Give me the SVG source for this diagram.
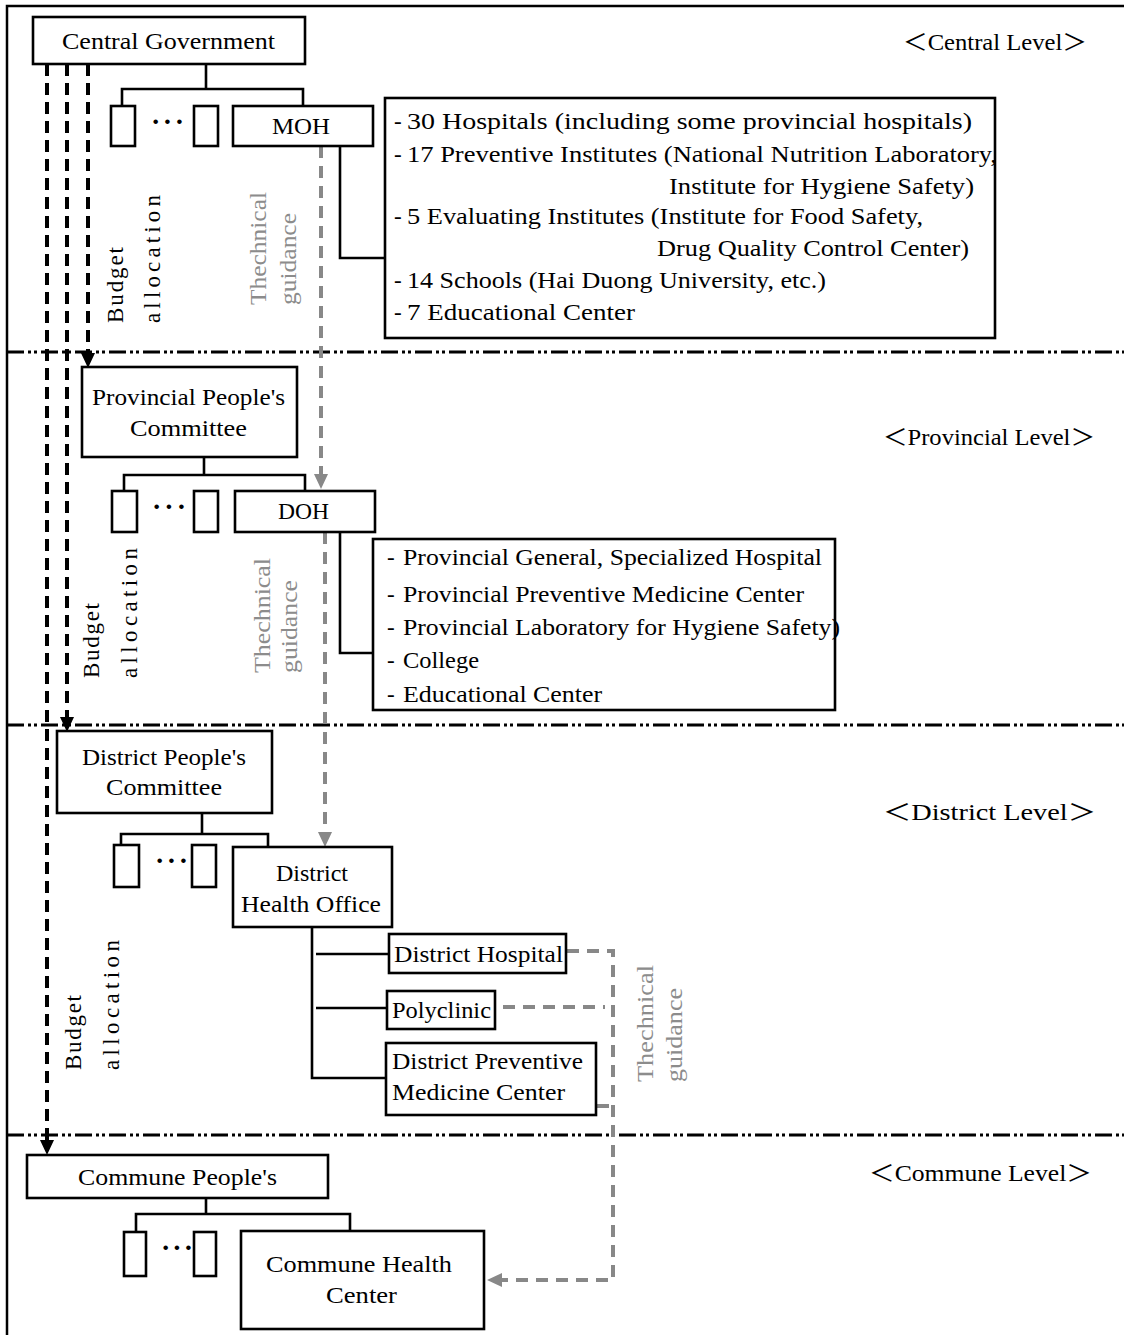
<svg xmlns="http://www.w3.org/2000/svg" width="1124" height="1335" viewBox="0 0 1124 1335">
<style>
.box{fill:#fff;stroke:#000;stroke-width:2.6}
.ln{fill:none;stroke:#000;stroke-width:2.6}
.bd{fill:none;stroke:#000;stroke-width:4;stroke-dasharray:12 7}
.gd{fill:none;stroke:#888;stroke-width:4;stroke-dasharray:12 8}
.sep{fill:none;stroke:#000;stroke-width:3;stroke-dasharray:17 4 3 3 3 4}
.t{font-family:"Liberation Serif",serif;font-size:23px;fill:#000}
.lv{font-family:"Liberation Serif","Noto Sans CJK JP",serif;font-size:23px;fill:#000}
.m{font-family:"Liberation Serif",serif;font-size:23px;fill:#000}
.g{font-family:"Liberation Serif",serif;font-size:24px;fill:#8c8c8c}
.dots{font-family:"Liberation Serif",serif;font-size:28px;font-weight:bold;fill:#000}
</style>
<defs>
<marker id="ab" markerUnits="userSpaceOnUse" markerWidth="15" markerHeight="16" viewBox="0 0 15 16" refX="0" refY="8" orient="auto"><path d="M0,1 L15,8 L0,15 z" fill="#000"/></marker>
<marker id="ag" markerUnits="userSpaceOnUse" markerWidth="15" markerHeight="16" viewBox="0 0 15 16" refX="0" refY="8" orient="auto"><path d="M0,1 L15,8 L0,15 z" fill="#888"/></marker>
</defs>
<rect width="1124" height="1335" fill="#fff"/>
<g id="frame">
<path d="M7,1335 V6 H1124" fill="none" stroke="#000" stroke-width="2.5"/>
<path class="sep" d="M7,352 H1124"/>
<path class="sep" d="M7,725 H1124"/>
<path class="sep" d="M7,1135 H1124"/>
</g>
<g id="connectors">
<path class="ln" d="M206,64 V89 M122,106 V89 H303 V106"/>
<path class="ln" d="M340,146 V258 H385"/>
<path class="ln" d="M204,457 V475 M124,491 V475 H305 V491"/>
<path class="ln" d="M340,532 V653 H372"/>
<path class="ln" d="M202,813 V834 M121,845 V834 H268 V847"/>
<path class="ln" d="M312,927 V1078 H386 M316,954 H389 M316,1008 H387"/>
<path class="ln" d="M206,1198 V1214 M136,1232 V1214 H350 V1231"/>
<path class="bd" d="M88,64 V353" marker-end="url(#ab)"/>
<path class="bd" d="M67,64 V717" marker-end="url(#ab)"/>
<path class="bd" d="M47,64 V1140" marker-end="url(#ab)"/>
<path class="gd" d="M321,146 V474" marker-end="url(#ag)"/>
<path class="gd" d="M325,532 V832" marker-end="url(#ag)"/>
<path class="gd" d="M567,951 H613 V1280 H502" marker-end="url(#ag)"/>
<path class="gd" d="M503,1007 H605"/>
<path class="gd" d="M597,1106 H613"/>
<text class="m" transform="translate(123,323) rotate(-90)" textLength="76" lengthAdjust="spacing">Budget</text>
<text class="m" transform="translate(160,323) rotate(-90)" textLength="128" lengthAdjust="spacing">allocation</text>
<text class="g" transform="translate(266,305) rotate(-90)" textLength="113" lengthAdjust="spacingAndGlyphs">Thechnical</text>
<text class="g" transform="translate(296,305) rotate(-90)" textLength="92" lengthAdjust="spacingAndGlyphs">guidance</text>
<text class="m" transform="translate(99,678) rotate(-90)" textLength="75" lengthAdjust="spacing">Budget</text>
<text class="m" transform="translate(137,678) rotate(-90)" textLength="130" lengthAdjust="spacing">allocation</text>
<text class="g" transform="translate(270,673) rotate(-90)" textLength="115" lengthAdjust="spacingAndGlyphs">Thechnical</text>
<text class="g" transform="translate(297,673) rotate(-90)" textLength="93" lengthAdjust="spacingAndGlyphs">guidance</text>
<text class="m" transform="translate(81,1070) rotate(-90)" textLength="75" lengthAdjust="spacing">Budget</text>
<text class="m" transform="translate(119,1070) rotate(-90)" textLength="130" lengthAdjust="spacing">allocation</text>
<text class="g" transform="translate(653,1082) rotate(-90)" textLength="117" lengthAdjust="spacingAndGlyphs">Thechnical</text>
<text class="g" transform="translate(682,1082) rotate(-90)" textLength="94" lengthAdjust="spacingAndGlyphs">guidance</text>
</g>
<g id="levels">
<text class="lv" x="903" y="50" textLength="184" lengthAdjust="spacingAndGlyphs">＜Central Level＞</text>
<text class="lv" x="883" y="445" textLength="212" lengthAdjust="spacingAndGlyphs">＜Provincial Level＞</text>
<text class="lv" x="883" y="820" textLength="213" lengthAdjust="spacingAndGlyphs">＜District Level＞</text>
<text class="lv" x="869" y="1181" textLength="223" lengthAdjust="spacingAndGlyphs">＜Commune Level＞</text>
</g>
<g id="central-government">
<rect class="box" x="33" y="17" width="272" height="47"/>
<text class="t" x="62" y="49" textLength="213" lengthAdjust="spacingAndGlyphs">Central Government</text>
</g>
<g id="central-others">
<rect class="box" x="111" y="106" width="24" height="40"/>
<rect class="box" x="194" y="106" width="24" height="40"/>
<text class="dots" x="151" y="131" textLength="33" lengthAdjust="spacing">· · ·</text>
</g>
<g id="moh">
<rect class="box" x="233" y="106" width="140" height="40"/>
<text class="t" x="272" y="134" textLength="58" lengthAdjust="spacingAndGlyphs">MOH</text>
</g>
<g id="moh-list">
<rect class="box" x="385" y="98" width="610" height="240"/>
<text class="t" x="394" y="129">-</text><text class="t" x="407" y="129" textLength="565" lengthAdjust="spacingAndGlyphs">30 Hospitals (including some provincial hospitals)</text>
<text class="t" x="394" y="162">-</text><text class="t" x="407" y="162" textLength="590" lengthAdjust="spacingAndGlyphs">17 Preventive Institutes (National Nutrition Laboratory,</text>
<text class="t" x="669" y="194" textLength="305" lengthAdjust="spacingAndGlyphs">Institute for Hygiene Safety)</text>
<text class="t" x="394" y="224">-</text><text class="t" x="407" y="224" textLength="516" lengthAdjust="spacingAndGlyphs">5 Evaluating Institutes (Institute for Food Safety,</text>
<text class="t" x="657" y="256" textLength="312" lengthAdjust="spacingAndGlyphs">Drug Quality Control Center)</text>
<text class="t" x="394" y="288">-</text><text class="t" x="407" y="288" textLength="419" lengthAdjust="spacingAndGlyphs">14 Schools (Hai Duong University, etc.)</text>
<text class="t" x="394" y="320">-</text><text class="t" x="407" y="320" textLength="228" lengthAdjust="spacingAndGlyphs">7 Educational Center</text>
</g>
<g id="provincial-committee">
<rect class="box" x="82" y="367" width="215" height="90"/>
<text class="t" x="92" y="405" textLength="193" lengthAdjust="spacingAndGlyphs">Provincial People's</text>
<text class="t" x="130" y="436" textLength="117" lengthAdjust="spacingAndGlyphs">Committee</text>
</g>
<g id="provincial-others">
<rect class="box" x="112" y="491" width="25" height="41"/>
<rect class="box" x="194" y="491" width="24" height="41"/>
<text class="dots" x="152" y="516" textLength="34" lengthAdjust="spacing">· · ·</text>
</g>
<g id="doh">
<rect class="box" x="235" y="491" width="140" height="41"/>
<text class="t" x="278" y="519" textLength="51" lengthAdjust="spacingAndGlyphs">DOH</text>
</g>
<g id="doh-list">
<rect class="box" x="373" y="539" width="462" height="171"/>
<text class="t" x="387" y="565">-</text><text class="t" x="403" y="565" textLength="419" lengthAdjust="spacingAndGlyphs">Provincial General, Specialized Hospital</text>
<text class="t" x="387" y="602">-</text><text class="t" x="403" y="602" textLength="401" lengthAdjust="spacingAndGlyphs">Provincial Preventive Medicine Center</text>
<text class="t" x="387" y="635">-</text><text class="t" x="403" y="635" textLength="437" lengthAdjust="spacingAndGlyphs">Provincial Laboratory for Hygiene Safety)</text>
<text class="t" x="387" y="668">-</text><text class="t" x="403" y="668" textLength="76" lengthAdjust="spacingAndGlyphs">College</text>
<text class="t" x="387" y="702">-</text><text class="t" x="403" y="702" textLength="199" lengthAdjust="spacingAndGlyphs">Educational Center</text>
</g>
<g id="district-committee">
<rect class="box" x="57" y="731" width="215" height="82"/>
<text class="t" x="82" y="765" textLength="164" lengthAdjust="spacingAndGlyphs">District People's</text>
<text class="t" x="106" y="795" textLength="116" lengthAdjust="spacingAndGlyphs">Committee</text>
</g>
<g id="district-others">
<rect class="box" x="114" y="845" width="25" height="42"/>
<rect class="box" x="192" y="845" width="24" height="42"/>
<text class="dots" x="155" y="870" textLength="33" lengthAdjust="spacing">· · ·</text>
</g>
<g id="district-health-office">
<rect class="box" x="233" y="847" width="159" height="80"/>
<text class="t" x="276" y="881" textLength="72" lengthAdjust="spacingAndGlyphs">District</text>
<text class="t" x="241" y="912" textLength="140" lengthAdjust="spacingAndGlyphs">Health Office</text>
</g>
<g id="district-hospital">
<rect class="box" x="389" y="934" width="177" height="39"/>
<text class="t" x="394" y="962" textLength="169" lengthAdjust="spacingAndGlyphs">District Hospital</text>
</g>
<g id="polyclinic">
<rect class="box" x="387" y="991" width="108" height="38"/>
<text class="t" x="392" y="1018" textLength="99" lengthAdjust="spacingAndGlyphs">Polyclinic</text>
</g>
<g id="district-preventive">
<rect class="box" x="386" y="1043" width="210" height="72"/>
<text class="t" x="392" y="1069" textLength="191" lengthAdjust="spacingAndGlyphs">District Preventive</text>
<text class="t" x="392" y="1100" textLength="173" lengthAdjust="spacingAndGlyphs">Medicine Center</text>
</g>
<g id="commune-committee">
<rect class="box" x="27" y="1155" width="301" height="43"/>
<text class="t" x="78" y="1185" textLength="199" lengthAdjust="spacingAndGlyphs">Commune People's</text>
</g>
<g id="commune-others">
<rect class="box" x="124" y="1232" width="22" height="44"/>
<rect class="box" x="194" y="1232" width="22" height="44"/>
<text class="dots" x="161" y="1257" textLength="32" lengthAdjust="spacing">· · ·</text>
</g>
<g id="commune-health-center">
<rect class="box" x="241" y="1231" width="243" height="98"/>
<text class="t" x="266" y="1272" textLength="186" lengthAdjust="spacingAndGlyphs">Commune Health</text>
<text class="t" x="326" y="1303" textLength="71" lengthAdjust="spacingAndGlyphs">Center</text>
</g>
</svg>
